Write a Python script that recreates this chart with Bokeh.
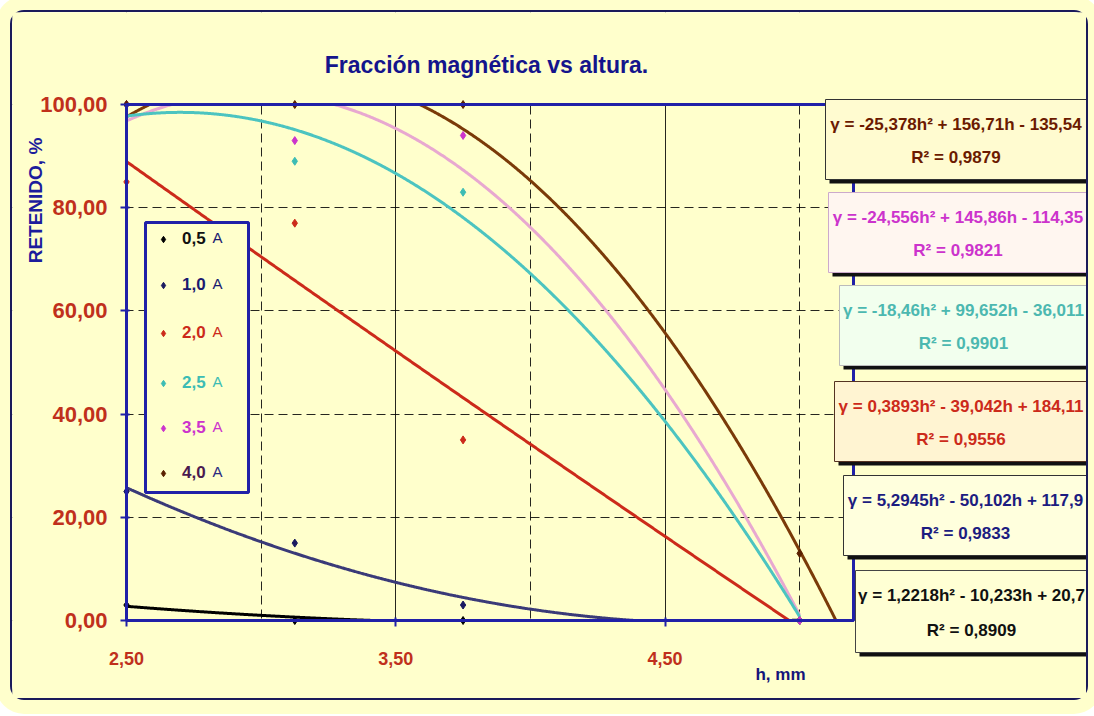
import numpy as np
from bokeh.plotting import figure
from bokeh.models import (Range1d, FixedTicker, CustomJSTickFormatter, Label,
                          BoxAnnotation, Legend, LegendItem)
from bokeh.embed import file_html
from bokeh.resources import INLINE

# ---------------- data ----------------
h_values = [2.5, 3.125, 3.75, 5.0]
series_names = ["0,5", "1,0", "2,0", "2,5", "3,5", "4,0"]
ret_05 = [3, 0, 0, 0]
ret_10 = [25, 15, 3, 0]
ret_20 = [85, 77, 35, 0]
ret_25 = [100, 89, 83, 0]
ret_35 = [100, 93, 94, 0]
ret_40 = [100, 100, 100, 13]

# polynomial trendlines  a*h^2 + b*h + c
coef_05 = [1.2218, -10.233, 20.7]
coef_10 = [5.2945, -50.102, 117.9]
coef_20 = [0.3893, -39.042, 184.11]
coef_25 = [-18.46, 99.652, -36.011]
coef_35 = [-24.556, 145.86, -114.35]
coef_40 = [-25.378, 156.71, -135.54]
trend_end = [5.0, 5.0, 5.0, 5.0, 5.0, 5.2]
r2_values = ["0,8909", "0,9833", "0,9556", "0,9901", "0,9821", "0,9879"]
eq_texts = [
    "γ = 1,2218h² - 10,233h + 20,7",
    "γ = 5,2945h² - 50,102h + 117,9",
    "γ = 0,3893h² - 39,042h + 184,11",
    "γ = -18,46h² + 99,652h - 36,011",
    "γ = -24,556h² + 145,86h - 114,35",
    "γ = -25,378h² + 156,71h - 135,54",
]
x_ticks = [2.5, 3.5, 4.5]
x_minor = [3.0, 4.0, 5.0]
y_ticks = [0, 20, 40, 60, 80, 100]
H_MIN, H_MAX = 2.5, 5.2      # extent of the plotted data area
R_MIN, R_MAX = 0.0, 100.0

# ---------------- style ----------------
BG = "#FFFFCC"
BLUE = "#2020A8"
TICKRED = "#C0301C"
FONT = "Liberation Sans"
point_colors = ["#000000", "#1A1A60", "#CC2A1A", "#3CBCB4", "#CC33CC", "#5A2000"]
line_colors = ["#000000", "#3A3A78", "#CC2A1A", "#4CC4C0", "#E8A8D0", "#7A3A08"]
legend_text_colors = ["#111111", "#1A1A70", "#CC2A1A", "#3CBCB4", "#CC33CC", "#4A1A50"]
legend_a_colors = ["#1A1A70", "#1A1A70", "#CC2A1A", "#3CBCB4", "#CC33CC", "#2A2A80"]
eq_text_colors = ["#111111", "#1C1C80", "#CC2A1A", "#4CB8B0", "#CC33CC", "#6B1A00"]
eq_fill = ["#FFFFD4", "#FFFFDD", "#FFF4D2", "#F2FFEE", "#FFF6F0", "#FFFBD0"]
eq_border = ["#444444", "#333333", "#553322", "#BBBBBB", "#CCAACC", "#333333"]

W, H = 1078, 690
AX_L, AX_B = 114, 608          # canvas px of h=2.5 and of 0 %
PX_X = 727 / 2.7               # px per mm
PX_Y = 5.16                    # px per %
X0 = H_MIN - AX_L / PX_X
X1 = H_MIN + (W - AX_L) / PX_X
Y0 = R_MIN - (H - AX_B) / PX_Y
Y1 = R_MIN + AX_B / PX_Y


def dx(px):
    return H_MIN + (px - AX_L) / PX_X


def dy(py):
    return R_MIN + (AX_B - py) / PX_Y


p = figure(width=W, height=H, x_range=Range1d(X0, X1), y_range=Range1d(Y0, Y1),
           output_backend="svg", toolbar_location=None,
           min_border_left=0, min_border_right=0,
           min_border_top=0, min_border_bottom=0,
           background_fill_color=BG, border_fill_color=BG,
           styles={"border": "2px solid #1A1A5A", "border-radius": "14px",
                   "margin": "10px", "box-shadow": "0 0 0 14px #FFFFCC"})
p.title.visible = False
p.outline_line_color = None

# axes (crossing at the data origin)
for ax in (p.xaxis[0], p.yaxis[0]):
    ax.axis_line_color = BLUE
    ax.axis_line_width = 3
    ax.major_tick_line_color = BLUE
    ax.major_tick_line_width = 2
    ax.major_tick_in = 3
    ax.major_tick_out = 6
    ax.minor_tick_line_color = None
    ax.major_label_text_color = TICKRED
    ax.major_label_text_font = FONT
    ax.major_label_text_font_style = "bold"
    ax.formatter = CustomJSTickFormatter(code="return tick.toFixed(2).replace('.', ',');")

p.xaxis.ticker = FixedTicker(ticks=x_ticks, minor_ticks=x_minor)
p.yaxis.ticker = FixedTicker(ticks=y_ticks)
p.xaxis.fixed_location = R_MIN
p.yaxis.fixed_location = H_MIN
p.xaxis.bounds = (H_MIN, H_MAX)
p.yaxis.bounds = (R_MIN, R_MAX)
p.xaxis.major_label_text_font_size = "18px"
p.yaxis.major_label_text_font_size = "22px"
p.xaxis.major_label_standoff = 25
p.yaxis.major_label_standoff = 13

# grids
p.xgrid.grid_line_color = "#000000"
p.xgrid.grid_line_width = 1
p.xgrid.grid_line_alpha = 0.85
p.xgrid.minor_grid_line_color = "#000000"
p.xgrid.minor_grid_line_dash = "9 5"
p.xgrid.minor_grid_line_alpha = 0.85
p.ygrid.grid_line_color = "#000000"
p.ygrid.grid_line_dash = "9 5"
p.ygrid.grid_line_alpha = 0.85

# hide grid lines outside the data area
for kw in (dict(right=H_MIN), dict(left=H_MAX), dict(top=R_MIN), dict(bottom=R_MAX)):
    p.add_layout(BoxAnnotation(fill_color=BG, fill_alpha=1.0, line_color=None,
                               level="underlay", **kw))

# trendlines (shown only inside the 0-100 % area); 4,0 A drawn first
coefs = [coef_05, coef_10, coef_20, coef_25, coef_35, coef_40]
rets = [ret_05, ret_10, ret_20, ret_25, ret_35, ret_40]
for i in reversed(range(6)):
    a, b, c = coefs[i]
    hh = np.linspace(h_values[0], trend_end[i], 900)
    yy = a * hh ** 2 + b * hh + c
    yy = np.where((yy < R_MIN) | (yy > R_MAX), np.nan, yy)
    p.line(hh, yy, line_color=line_colors[i], line_width=3)

# points
point_renderers = []
for i, r in enumerate(rets):
    pr = p.scatter(h_values, r, marker="diamond", size=8,
                   fill_color=point_colors[i], line_color=point_colors[i])
    point_renderers.append(pr)

# data-area border
p.add_layout(BoxAnnotation(left=H_MIN, right=H_MAX, bottom=R_MIN, top=R_MAX,
                           fill_alpha=0.0, line_color=BLUE, line_alpha=1.0,
                           line_width=3, level="annotation"))

# legend box
p.add_layout(BoxAnnotation(left=dx(133), right=dx(236), top=dy(210), bottom=dy(480),
                           fill_color=BG, fill_alpha=1.0, line_color=BLUE,
                           line_alpha=1.0, line_width=3, level="annotation"))

legend_cy = [227, 273, 321, 371, 416, 461]
for i, name in enumerate(series_names):
    lg = Legend(items=[LegendItem(label=name, renderers=[point_renderers[i]])],
                location=(143, (H - legend_cy[i]) - 10),
                border_line_color=None, background_fill_alpha=0,
                padding=0, margin=0, glyph_width=16, glyph_height=16,
                label_standoff=11, label_text_font=FONT,
                label_text_font_style="bold", label_text_font_size="17px",
                label_text_color=legend_text_colors[i], label_height=20)
    p.add_layout(lg)
    p.add_layout(Label(x=dx(205), y=dy(legend_cy[i] - 2), text="A",
                       text_align="center", text_baseline="middle",
                       text_font=FONT, text_font_size="15px",
                       text_color=legend_a_colors[i]))

# equation boxes (index order: 0.5 ... 4.0), canvas px: left, top, right, bottom
eq_boxes = [(843, 558, 1075, 640), (831, 463, 1075, 543), (822, 369, 1075, 449),
            (827, 273, 1075, 353), (816, 180, 1075, 260), (813, 87, 1074, 167)]
for i in range(6):
    l, t, r, b = eq_boxes[i]
    p.add_layout(BoxAnnotation(left=dx(l + 4), right=dx(r + 4), top=dy(t + 4),
                               bottom=dy(b + 4), fill_color="#111111", fill_alpha=1.0,
                               line_color=None, level="annotation"))
    p.add_layout(BoxAnnotation(left=dx(l), right=dx(r), top=dy(t), bottom=dy(b),
                               fill_color=eq_fill[i], fill_alpha=1.0,
                               line_color=eq_border[i], line_alpha=1.0, line_width=1,
                               level="annotation"))
    cx = (l + r) / 2
    hgt = b - t
    p.add_layout(Label(x=dx(cx), y=dy(t + 0.31 * hgt), text=eq_texts[i],
                       text_align="center", text_baseline="middle",
                       text_font=FONT, text_font_style="bold", text_font_size="17px",
                       text_color=eq_text_colors[i]))
    p.add_layout(Label(x=dx(cx), y=dy(t + 0.73 * hgt), text="R² = " + r2_values[i],
                       text_align="center", text_baseline="middle",
                       text_font=FONT, text_font_style="bold", text_font_size="17px",
                       text_color=eq_text_colors[i]))

# title and axis labels
p.add_layout(Label(x=dx(474), y=dy(52), text="Fracción magnética vs altura.",
                   text_align="center", text_baseline="middle",
                   text_font=FONT, text_font_style="bold",
                   text_font_size="23px", text_color="#14148C"))
p.add_layout(Label(x=dx(23), y=dy(188), text="RETENIDO, %", angle=np.pi / 2,
                   text_align="center", text_baseline="middle",
                   text_font=FONT, text_font_style="bold",
                   text_font_size="19px", text_color="#1C1C9C"))
p.add_layout(Label(x=dx(768), y=dy(662), text="h, mm",
                   text_align="center", text_baseline="middle",
                   text_font=FONT, text_font_style="bold",
                   text_font_size="17px", text_color="#14147A"))

open("out.html", "w").write(file_html(p, INLINE))
